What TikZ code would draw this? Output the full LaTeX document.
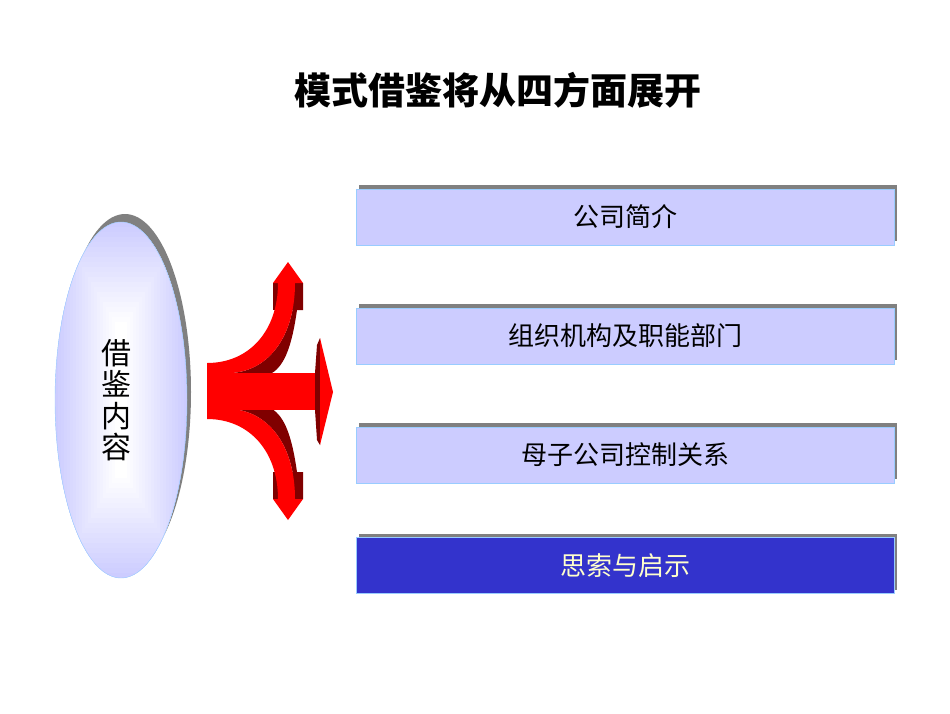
\documentclass[tikz,border=0pt]{standalone}
\usepackage{fontspec}
\newfontfamily\cjk{Noto Sans CJK SC}
\usetikzlibrary{shapes.geometric,shadows}
\definecolor{lav}{RGB}{204,204,255}
\definecolor{lavline}{RGB}{153,204,255}
\definecolor{deepblue}{RGB}{51,51,204}
\definecolor{paleyellow}{RGB}{255,255,204}
\definecolor{shade}{RGB}{128,128,128}
\definecolor{darkred}{RGB}{128,0,0}
\tikzset{
  topic/.style={draw=lavline, fill=lav, minimum width=538pt, minimum height=56pt, inner sep=0pt,
    font=\cjk\fontsize{26}{30}\selectfont,
    drop shadow={shadow xshift=3pt, shadow yshift=4pt, fill=shade, opacity=1}},
  fork/.style={fill=red},
}
\begin{document}
\begin{tikzpicture}[x=1pt,y=-1pt]
\useasboundingbox (0,0) rectangle (950,713);
\node (title) at (498,90) {\cjk\bfseries\fontsize{37}{40}\selectfont 模式借鉴将从四方面展开};
\node (core) at (121,400) [ellipse, draw=lavline, fill=lav, minimum width=132pt, minimum height=356pt, inner sep=0pt,
  drop shadow={shadow xshift=4pt, shadow yshift=8pt, fill=shade, opacity=1},
  path picture={\foreach \i in {0,...,20}{\pgfmathtruncatemacro\p{\i*5}
    \fill[white!\p!lav] (-66+3*\i,-178+5*\i) rectangle (66-3*\i,178-5*\i);}}] {};
\node (label) at (116,400) [align=center, font=\cjk\fontsize{30}{31.5}\selectfont] {借\\鉴\\内\\容};
% three-way arrow
\foreach \f/\m in {0/1,782/-1}{
\begin{scope}[shift={(0,\f)},yscale=\m]
\fill[darkred] (273,283) rectangle (303,310);
\fill[darkred] (295,283) -- (303,283) -- (303,310) -- (297,310) .. controls (292,345) and (285,365) .. (272,373)
  -- (232,373) .. controls (270,370) and (295,335) .. (295,283) -- cycle;
\fill[fork] (207,363) .. controls (250,363) and (278,330) .. (278,283) -- (295,283)
  .. controls (295,335) and (270,370) .. (232,373) -- (207,373) -- cycle;
\fill[fork] (273,283) -- (288,262) -- (303,283) -- cycle;
\end{scope}}
\fill[fork] (207,363) rectangle (230,418);
\fill[fork] (207,373) rectangle (318,410);
\fill[darkred] (315,373) -- (317,345) -- (320,338) -- (320,445) -- (317,440) -- (315,410) -- cycle;
\fill[fork] (320,338) -- (333,392) -- (320,445) -- cycle;
% topics
\node (intro) at (625,217) [topic] {公司简介};
\node (org) at (625,336) [topic] {组织机构及职能部门};
\node (ctrl) at (625,455) [topic] {母子公司控制关系};
\node (think) at (625,565.5) [topic, fill=deepblue, text=paleyellow] {思索与启示};
\end{tikzpicture}
\end{document}
